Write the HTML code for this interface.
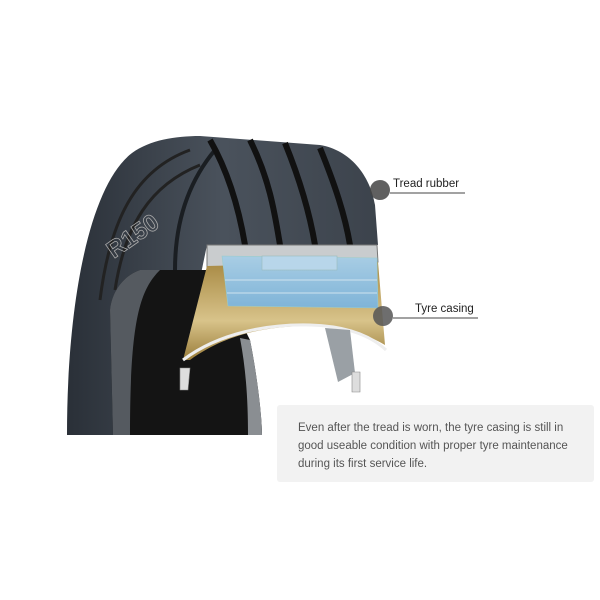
<!DOCTYPE html>
<html><head><style>
body{margin:0;width:600px;height:600px;background:#fff;position:relative;overflow:hidden;font-family:"Liberation Sans",sans-serif}
.lbl{position:absolute;font-size:11.5px;color:#222}
.box{position:absolute;left:277px;top:405px;width:317px;height:77px;background:#f2f2f2;border-radius:3px}
.box p{margin:0;position:absolute;left:21px;top:14px;font-size:11.5px;line-height:18px;color:#555;width:282px}
</style></head><body>
<svg width="600" height="600" style="position:absolute;left:0;top:0">
<defs>
<linearGradient id="tg" x1="0" x2="1"><stop offset="0" stop-color="#2a3038"/><stop offset=".5" stop-color="#4a525c"/><stop offset="1" stop-color="#3c434c"/></linearGradient>
<linearGradient id="gold" x1="0" y1="0" x2="0" y2="1"><stop offset="0" stop-color="#a88a44"/><stop offset=".6" stop-color="#d8c38a"/><stop offset="1" stop-color="#9a7d3a"/></linearGradient>
<linearGradient id="blue" x1="0" y1="0" x2="0" y2="1"><stop offset="0" stop-color="#a8cde4"/><stop offset="1" stop-color="#7fb4d8"/></linearGradient>
</defs>
<!-- tire body -->
<path d="M67,435 C67,300 90,185 132,153 C150,140 175,136 200,136 L320,145 C350,150 370,175 375,205 L378,245 L207,245 L183,360 L200,435 Z" fill="url(#tg)"/>
<!-- sidewall grooves -->
<path d="M100,300 C110,220 135,170 190,150" stroke="#222" stroke-width="3" fill="none"/>
<path d="M115,290 C125,225 150,185 200,165" stroke="#222" stroke-width="3" fill="none"/>
<path d="M175,270 C175,220 190,180 215,150" stroke="#1a1e22" stroke-width="4" fill="none"/>
<!-- tread grooves -->
<path d="M210,140 C230,175 240,215 245,245" stroke="#111" stroke-width="6" fill="none"/>
<path d="M250,140 C270,180 275,215 280,245" stroke="#111" stroke-width="6" fill="none"/>
<path d="M285,143 C300,180 310,215 315,245" stroke="#111" stroke-width="6" fill="none"/>
<path d="M320,148 C335,185 345,215 350,245" stroke="#111" stroke-width="6" fill="none"/>
<!-- inner hole -->
<path d="M110,310 C112,290 125,275 140,270 L215,270 L250,340 C258,380 262,420 262,435 L113,435 Z" fill="#141414"/>
<path d="M110,310 C112,290 125,275 140,270 L160,270 C140,290 130,320 130,435 L113,435 Z" fill="#555a60"/>
<path d="M240,338 L250,340 C258,380 262,420 262,435 L248,435 C248,400 246,370 240,338 Z" fill="#8a8e92"/>
<!-- cutaway top grey -->
<path d="M207,245 L377,245 L378,262 L207,268 Z" fill="#c9ccce" stroke="#777" stroke-width="1"/>
<!-- gold casing -->
<path d="M207,266 L378,262 L385,345 C360,330 330,325 300,326 C260,328 225,335 190,360 L183,360 Z" fill="url(#gold)"/>
<path d="M183,360 C220,332 270,324 310,325 C345,326 370,335 386,350" stroke="#eee" stroke-width="3" fill="none"/>
<!-- blue belts -->
<path d="M222,256 L377,258 L378,308 L228,306 Z" fill="url(#blue)" stroke="#9cc" stroke-width=".6"/>
<line x1="225" y1="280" x2="377" y2="280" stroke="#cfe3ef" stroke-width="1"/>
<line x1="227" y1="293" x2="377" y2="293" stroke="#cfe3ef" stroke-width="1"/>
<rect x="262" y="256" width="75" height="14" fill="#b8d6ea" stroke="#9bb" stroke-width=".6"/>
<!-- right tube -->
<path d="M325,328 L350,330 L355,373 L338,382 Z" fill="#9aa0a5"/>
<path d="M180,368 l10,0 l-2,22 l-8,0 Z M352,372 l8,0 l0,20 l-8,0 Z" fill="#ddd" stroke="#888" stroke-width=".6"/>
<!-- label dots -->
<circle cx="380" cy="190" r="10" fill="#444" opacity=".85"/>
<line x1="390" y1="193" x2="465" y2="193" stroke="#444" stroke-width="1"/>
<circle cx="383" cy="316" r="10" fill="#555" opacity=".85"/>
<line x1="393" y1="318" x2="478" y2="318" stroke="#444" stroke-width="1"/>
<text x="104" y="252" fill="none" stroke="#aaa" stroke-width=".8" font-size="24" font-family="Liberation Sans" font-weight="bold" transform="rotate(-35 120 240)">R150</text>
</svg>
<div class="lbl" style="left:393px;top:178px">Tread rubber</div>
<div class="lbl" style="left:415px;top:303px">Tyre casing</div>
<div class="box"><p>Even after the tread is worn, the tyre casing is still in good useable condition with proper tyre maintenance during its first service life.</p></div>
</body></html>
